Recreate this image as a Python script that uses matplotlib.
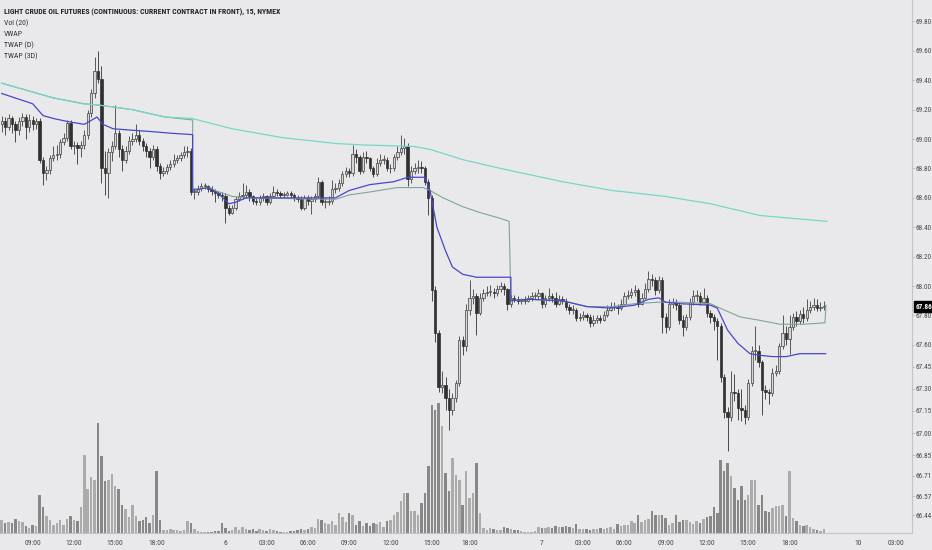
import matplotlib
matplotlib.use("Agg")
import matplotlib.pyplot as plt
import matplotlib.transforms as mtransforms
from matplotlib import font_manager

# ------------------------
# DATA (CL 15m)
# ------------------------

first_open = 69.10

closes = [
    69.12, 69.08, 69.14, 69.10, 69.06, 69.12, 69.15, 69.08, 69.13, 69.10,
    69.12, 68.86, 68.77, 68.79, 68.87, 68.89, 68.90, 68.98, 69.01, 69.11,
    68.95, 68.96, 68.94, 68.96, 69.03, 69.18, 69.31, 69.46, 69.41, 68.80,
    68.77, 68.91, 68.95, 69.04, 68.93, 68.86, 68.92, 68.99, 69.00, 69.03,
    68.99, 68.95, 68.92, 68.88, 68.93, 68.82, 68.77, 68.78, 68.81, 68.83,
    68.86, 68.87, 68.89, 68.91, 68.92, 68.64, 68.64, 68.67, 68.68, 68.68,
    68.66, 68.65, 68.63, 68.62, 68.61, 68.53, 68.50, 68.53, 68.59, 68.61,
    68.62, 68.64, 68.61, 68.58, 68.57, 68.60, 68.61, 68.57, 68.61, 68.64,
    68.63, 68.62, 68.62, 68.63, 68.62, 68.60, 68.59, 68.53, 68.60, 68.58,
    68.59, 68.61, 68.71, 68.57, 68.57, 68.58, 68.66, 68.67, 68.70, 68.76,
    68.78, 68.77, 68.90, 68.88, 68.78, 68.88, 68.87, 68.80, 68.76, 68.84,
    68.86, 68.86, 68.80, 68.80, 68.88, 68.91, 68.94, 68.95, 68.73, 68.78,
    68.80, 68.81, 68.80, 68.71, 68.60, 67.97, 67.68, 67.31, 67.33, 67.24,
    67.16, 67.24, 67.34, 67.63, 67.59, 67.84, 67.92, 67.93, 67.82, 67.92,
    67.95, 67.96, 67.96, 67.95, 67.98, 68.00, 67.98, 67.88, 67.92, 67.91,
    67.90, 67.90, 67.90, 67.92, 67.93, 67.93, 67.95, 67.88, 67.92, 67.93,
    67.92, 67.88, 67.91, 67.90, 67.86, 67.84, 67.84, 67.78, 67.79, 67.80,
    67.79, 67.75, 67.77, 67.78, 67.77, 67.80, 67.84, 67.86, 67.86, 67.85,
    67.88, 67.93, 67.94, 67.96, 67.97, 67.88, 67.92, 67.98, 68.05, 68.04,
    67.97, 68.04, 67.79, 67.72, 67.88, 67.89, 67.87, 67.77, 67.72, 67.79,
    67.89, 67.93, 67.93, 67.89, 67.92, 67.82, 67.79, 67.76, 67.73, 67.38,
    67.14, 67.11, 67.28, 67.27, 67.17, 67.16, 67.11, 67.34, 67.56, 67.56,
    67.48, 67.29, 67.28, 67.27, 67.41, 67.42, 67.59, 67.68, 67.64, 67.72,
    67.79, 67.76, 67.81, 67.78, 67.84, 67.86, 67.87, 67.85, 67.86, 67.86,
]

highs = [
    69.16, 69.15, 69.17, 69.16, 69.12, 69.15, 69.18, 69.17, 69.17, 69.16,
    69.14, 69.14, 68.88, 68.82, 68.89, 68.95, 68.96, 69.00, 69.04, 69.13,
    69.13, 68.99, 68.98, 68.99, 69.06, 69.20, 69.34, 69.56, 69.60, 69.50,
    68.92, 68.94, 68.99, 69.23, 69.06, 68.96, 68.95, 69.02, 69.04, 69.10,
    69.06, 69.01, 68.97, 68.94, 68.96, 68.95, 68.84, 68.81, 68.83, 68.86,
    68.90, 68.89, 68.91, 68.95, 68.95, 68.94, 68.67, 68.69, 68.70, 68.70,
    68.69, 68.68, 68.66, 68.65, 68.64, 68.63, 68.55, 68.55, 68.61, 68.64,
    68.70, 68.69, 68.66, 68.62, 68.60, 68.62, 68.63, 68.62, 68.63, 68.68,
    68.66, 68.65, 68.64, 68.65, 68.65, 68.63, 68.62, 68.61, 68.62, 68.62,
    68.61, 68.63, 68.74, 68.72, 68.60, 68.61, 68.72, 68.70, 68.73, 68.78,
    68.81, 68.80, 68.96, 68.93, 68.89, 68.91, 68.92, 68.88, 68.82, 68.87,
    68.90, 68.89, 68.88, 68.83, 68.90, 68.95, 69.03, 69.01, 68.97, 68.82,
    68.84, 68.86, 68.85, 68.82, 68.73, 68.62, 68.00, 67.70, 67.42, 67.38,
    67.30, 67.27, 67.36, 67.66, 67.66, 67.88, 68.04, 67.98, 67.95, 67.95,
    67.98, 68.00, 68.01, 67.99, 68.01, 68.03, 68.02, 67.99, 67.94, 67.94,
    67.93, 67.92, 67.93, 67.94, 67.96, 67.96, 67.98, 67.96, 67.94, 67.99,
    67.95, 67.96, 67.94, 67.93, 67.92, 67.88, 67.87, 67.85, 67.82, 67.83,
    67.82, 67.81, 67.80, 67.80, 67.80, 67.83, 67.87, 67.89, 67.89, 67.88,
    67.91, 67.96, 67.97, 67.99, 68.01, 67.99, 67.95, 68.02, 68.10, 68.08,
    68.06, 68.07, 68.06, 67.82, 67.91, 67.92, 67.91, 67.89, 67.80, 67.81,
    67.92, 67.97, 67.97, 67.96, 67.99, 67.94, 67.84, 67.81, 67.78, 67.75,
    67.40, 67.18, 67.42, 67.40, 67.30, 67.30, 67.19, 67.37, 67.59, 67.73,
    67.60, 67.50, 67.33, 67.30, 67.44, 67.46, 67.61, 67.80, 67.73, 67.80,
    67.82, 67.83, 67.84, 67.86, 67.91, 67.90, 67.92, 67.91, 67.89, 67.90,
]

lows = [
    69.05, 69.03, 69.06, 69.04, 68.98, 69.03, 69.09, 69.00, 69.05, 69.06,
    69.07, 68.84, 68.69, 68.72, 68.76, 68.85, 68.86, 68.87, 68.96, 68.99,
    68.93, 68.90, 68.83, 68.88, 68.93, 69.00, 69.15, 69.28, 69.38, 68.70,
    68.62, 68.60, 68.85, 68.93, 68.88, 68.78, 68.84, 68.90, 68.96, 68.98,
    68.96, 68.92, 68.88, 68.80, 68.86, 68.78, 68.73, 68.75, 68.76, 68.79,
    68.81, 68.84, 68.85, 68.87, 68.88, 68.62, 68.59, 68.62, 68.65, 68.66,
    68.64, 68.62, 68.57, 68.60, 68.58, 68.43, 68.48, 68.49, 68.52, 68.58,
    68.59, 68.60, 68.58, 68.56, 68.55, 68.55, 68.58, 68.55, 68.56, 68.60,
    68.61, 68.60, 68.60, 68.61, 68.60, 68.58, 68.57, 68.52, 68.52, 68.55,
    68.49, 68.57, 68.60, 68.55, 68.53, 68.55, 68.56, 68.63, 68.65, 68.68,
    68.74, 68.74, 68.75, 68.84, 68.76, 68.77, 68.84, 68.78, 68.74, 68.75,
    68.82, 68.83, 68.78, 68.77, 68.78, 68.86, 68.89, 68.90, 68.68, 68.70,
    68.76, 68.77, 68.77, 68.69, 68.48, 67.90, 67.62, 67.28, 67.27, 67.16,
    67.02, 67.12, 67.21, 67.32, 67.53, 67.56, 67.80, 67.88, 67.67, 67.80,
    67.90, 67.93, 67.93, 67.92, 67.93, 67.96, 67.94, 67.84, 67.86, 67.89,
    67.88, 67.88, 67.88, 67.89, 67.90, 67.91, 67.91, 67.85, 67.86, 67.90,
    67.89, 67.86, 67.87, 67.88, 67.84, 67.81, 67.81, 67.76, 67.76, 67.77,
    67.76, 67.72, 67.73, 67.75, 67.75, 67.76, 67.79, 67.83, 67.84, 67.81,
    67.84, 67.87, 67.91, 67.92, 67.93, 67.86, 67.87, 67.91, 67.96, 68.00,
    67.94, 67.95, 67.68, 67.68, 67.70, 67.85, 67.84, 67.74, 67.66, 67.70,
    67.77, 67.87, 67.90, 67.87, 67.88, 67.79, 67.75, 67.70, 67.50, 67.35,
    67.10, 66.88, 67.08, 67.22, 67.09, 67.08, 67.06, 67.09, 67.32, 67.50,
    67.45, 67.12, 67.23, 67.20, 67.25, 67.39, 67.40, 67.57, 67.60, 67.54,
    67.70, 67.73, 67.74, 67.75, 67.76, 67.82, 67.84, 67.83, 67.83, 67.84,
]

volume = [
    13, 10, 11, 10, 14, 12, 11, 7, 5, 8,
    7, 38, 26, 17, 13, 8, 10, 13, 8, 14,
    17, 13, 12, 26, 78, 44, 56, 53, 110, 77,
    52, 53, 59, 47, 44, 28, 24, 16, 28, 17,
    12, 13, 16, 10, 18, 62, 13, 3, 3, 4,
    3, 3, 2, 3, 12, 10, 4, 2, 1, 1,
    1, 1, 2, 2, 10, 5, 2, 3, 6, 3,
    6, 4, 3, 4, 2, 4, 3, 2, 4, 3,
    2, 1, 1, 1, 2, 2, 3, 4, 3, 4,
    6, 5, 14, 13, 10, 9, 12, 8, 20, 16,
    11, 20, 18, 8, 12, 7, 10, 7, 10, 9,
    11, 6, 12, 13, 18, 21, 32, 40, 40, 22,
    22, 18, 30, 40, 67, 128, 123, 130, 107, 60,
    42, 75, 58, 53, 28, 62, 35, 40, 70, 20,
    5, 3, 5, 4, 3, 3, 6, 5, 4, 3,
    3, 2, 1, 1, 1, 2, 6, 5, 5, 6,
    5, 7, 6, 6, 7, 6, 5, 9, 4, 4,
    4, 3, 4, 4, 5, 4, 5, 6, 4, 9,
    7, 8, 8, 12, 10, 18, 11, 13, 14, 22,
    18, 18, 18, 15, 8, 10, 18, 11, 13, 13,
    11, 9, 12, 10, 14, 16, 17, 26, 20, 73,
    62, 70, 57, 45, 33, 47, 33, 38, 53, 53,
    28, 38, 22, 21, 25, 27, 27, 28, 17, 62,
    15, 12, 8, 7, 8, 6, 4, 3, 2, 4,
]

# indicator lines, knots at bar index
vwap_x = [0, 9, 12, 15, 19, 24, 27.7, 29.4, 32.4, 38, 44, 49, 55.5, 55.5, 60, 63, 66, 68, 71, 77,
          87, 97, 101, 107, 114, 118, 123, 124.5, 126.5, 129, 131, 134, 138, 145, 148, 148, 153, 163, 170, 177,
          184, 188, 191, 193, 197, 206, 208, 211, 214, 217.5, 220, 224, 228, 232, 239.5]
vwap_y = [69.31, 69.24, 69.16, 69.14, 69.12, 69.10, 69.15, 69.10, 69.07, 69.06, 69.05, 69.04, 69.03, 68.65, 68.67, 68.63, 68.56, 68.57, 68.60, 68.60,
          68.60, 68.60, 68.65, 68.69, 68.71, 68.74, 68.74, 68.65, 68.40, 68.24, 68.13, 68.08, 68.06, 68.06, 68.06, 67.90, 67.91, 67.90, 67.86, 67.85,
          67.87, 67.91, 67.92, 67.89, 67.88, 67.87, 67.85, 67.70, 67.61, 67.54, 67.53, 67.52, 67.52, 67.54, 67.54]

twap_d_x = [0, 9, 15, 24, 28.6, 38, 47.5, 55.5, 55.5, 60.6, 62, 67, 70.7, 97, 101, 107, 115, 118, 122.5, 124.5,
            128.3, 134, 139, 145, 147.5, 148, 153, 163, 170.4, 177.4, 184, 190.8, 197.2, 206, 208.8, 214.6, 219.6, 226.3, 233, 239.3,
            239.6]
twap_d_y = [69.38, 69.32, 69.28, 69.24, 69.23, 69.20, 69.15, 69.13, 68.66, 68.67, 68.65, 68.61, 68.60, 68.59, 68.62, 68.64, 68.67, 68.67, 68.67, 68.65,
            68.60, 68.54, 68.50, 68.46, 68.44, 67.90, 67.91, 67.90, 67.86, 67.86, 67.88, 67.89, 67.89, 67.88, 67.85, 67.79, 67.77, 67.74, 67.74, 67.75,
            67.87]

twap_3d_x = [0, 9, 15, 23.6, 28.6, 38, 47.5, 55.3, 67, 81.5, 97, 105, 119.6, 124.5, 134, 145, 163, 177.4, 192.8, 206, 220.4, 239.9]
twap_3d_y = [69.38, 69.32, 69.28, 69.24, 69.23, 69.20, 69.15, 69.14, 69.07, 69.01, 68.97, 68.96, 68.95, 68.93, 68.86, 68.80, 68.71, 68.65, 68.61, 68.56, 68.48, 68.44]

time_ticks = [9, 21, 33, 45, 65, 77, 89, 101, 113, 125, 136, 157, 169, 181, 193, 205, 217, 229, 249, 260]
time_labels = ["09:00", "12:00", "15:00", "18:00", "6", "03:00", "06:00", "09:00", "12:00", "15:00", "18:00",
               "7", "03:00", "06:00", "09:00", "12:00", "15:00", "18:00", "10", "03:00"]

price_ticks = [69.80, 69.60, 69.40, 69.20, 69.00, 68.80, 68.60, 68.40, 68.20, 68.00, 67.80, 67.60,
               67.45, 67.30, 67.15, 67.00, 66.85, 66.71, 66.57, 66.44]

title = "LIGHT CRUDE OIL FUTURES (CONTINUOUS: CURRENT CONTRACT IN FRONT), 15, NYMEX"
legend_lines = ["Vol (20)", "VWAP", "TWAP (D)", "TWAP (3D)"]
last_price = 67.86

# ------------------------
# STYLE
# ------------------------

BG = "#e9e9eb"
UP_FACE, UP_EDGE = "#d6d6d6", "#404040"
DN_FACE, DN_EDGE = "#303030", "#303030"
VOL_UP, VOL_DN = "#ababab", "#878787"

# a narrow face if one is there, Roboto otherwise
names = {f.name for f in font_manager.fontManager.ttflist}
narrow = [f for f in ["Liberation Sans Narrow", "Roboto Condensed", "DejaVu Sans Condensed"] if f in names]
FONT = narrow[:1] + ["Roboto", "DejaVu Sans"]
plt.rcParams["font.family"] = FONT
fs = 5.6 if narrow else 5.0
fs_tick = 5.2 if narrow else 4.7

W, H = 932, 550
fig = plt.figure(figsize=(W / 100, H / 100), dpi=100, facecolor=BG)
pos = [0, 17 / H, 912 / W, 1 - 17 / H]

ax_vol = fig.add_axes(pos, facecolor=BG)
ax = fig.add_axes(pos, facecolor="none", sharex=ax_vol)

n = len(closes)
idx = list(range(n))
opens = [first_open] + closes[:-1]
up = [c >= o for o, c in zip(opens, closes)]

# volume pane
ax_vol.bar(idx, volume, width=0.72, color=[VOL_UP if u else VOL_DN for u in up], linewidth=0)
ax_vol.set_ylim(0, 533)
ax_vol.axis("off")

# candles
for i in idx:
    o, c = opens[i], closes[i]
    face, edge = (UP_FACE, UP_EDGE) if up[i] else (DN_FACE, DN_EDGE)
    ax.vlines(i, lows[i], highs[i], color=edge, linewidth=0.6, zorder=2)
    lo = min(o, c)
    h = max(abs(c - o), 0.006)
    ax.bar(i, h, bottom=lo, width=0.68, color=face, edgecolor=edge, linewidth=0.5, zorder=3)

# indicators (3D drawn over D, they overlap on the first session)
ax.plot(twap_d_x, twap_d_y, color="#7fa597", linewidth=0.8, zorder=4)
ax.plot(twap_3d_x, twap_3d_y, color="#74d8c8", linewidth=0.9, zorder=4.5)
ax.plot(vwap_x, vwap_y, color="#4a47c6", linewidth=0.9, zorder=5)

ax.set_xlim(-0.5, 264.6)
ax.set_ylim(66.32, 69.946)

# axes cosmetics
for side in ["top", "left"]:
    ax.spines[side].set_visible(False)
for side in ["right", "bottom"]:
    ax.spines[side].set_color("#c4c4c6")
    ax.spines[side].set_linewidth(0.8)

ax.yaxis.tick_right()
ax.set_yticks(price_ticks)
ax.set_yticklabels([f"{p:.2f}" for p in price_ticks])
ax.tick_params(axis="y", length=1.5, width=0.5, color="#9a9a9a", pad=0.8, labelsize=fs_tick, labelcolor="#4a4a4a")
ax.set_xticks(time_ticks)
ax.set_xticklabels(time_labels)
ax.tick_params(axis="x", length=0, pad=5, labelsize=fs_tick + 0.3, labelcolor="#4a4a4a")

# last price tag
trans = mtransforms.blended_transform_factory(ax.transAxes, ax.transData)
ax.text(1.0035, last_price, f"{last_price:.2f}", transform=trans, ha="left", va="center",
        fontsize=fs_tick, color="white", fontweight="bold", zorder=10, clip_on=False,
        bbox=dict(boxstyle="square,pad=0.2", facecolor="black", edgecolor="black"))

# header / legend text
fig.text(4 / W, 1 - 12 / H, title, fontsize=fs, fontweight="bold", color="#222222", va="center", ha="left")
for k, s in enumerate(legend_lines):
    fig.text(4 / W, 1 - (23 + 11 * k) / H, s, fontsize=fs, color="#333333", va="center", ha="left")

fig.savefig("out.png", dpi=100, facecolor=BG)
